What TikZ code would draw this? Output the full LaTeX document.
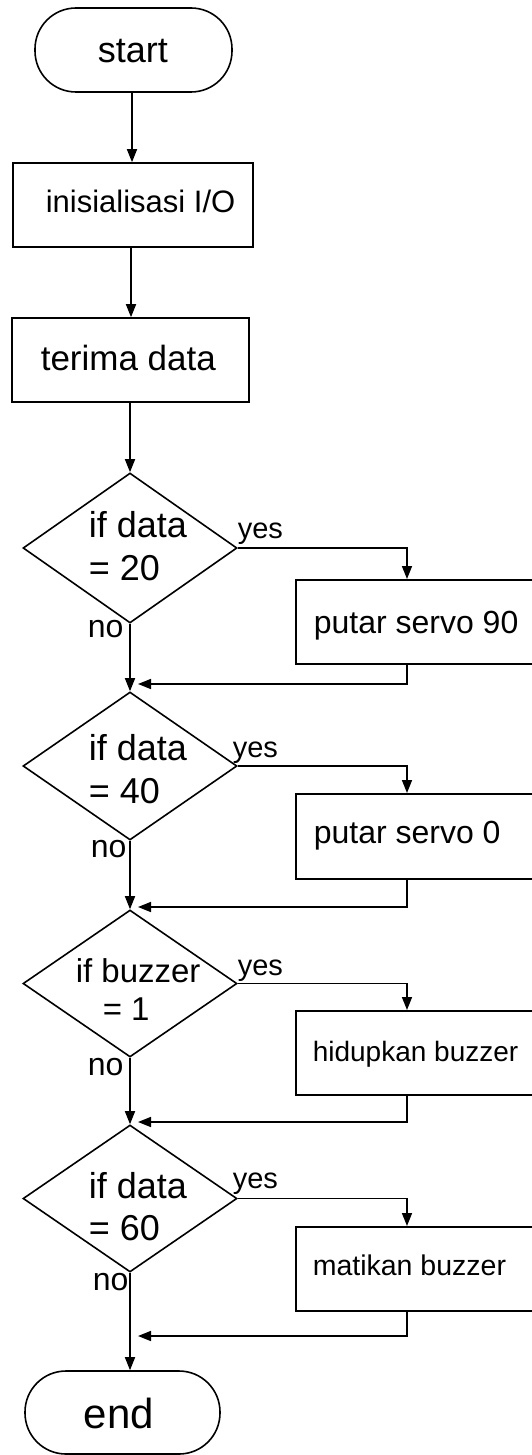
\documentclass[tikz,border=0pt]{standalone}
\usepackage{fontspec}
\setmainfont{Liberation Sans}
\usetikzlibrary{shapes.geometric,arrows.meta}
\newcommand{\fsz}[1]{\fontsize{#1}{#1}\selectfont}
\begin{document}
\begin{tikzpicture}[x=1pt,y=-1pt,line width=1.6pt,
  flow/.style={-{Triangle[length=13pt,width=10pt]}},
  term/.style={draw,rectangle,rounded corners=41pt,inner sep=0pt},
  procbox/.style={draw,rectangle,inner sep=0pt,minimum height=84pt},
  dia/.style={draw,diamond,inner sep=0pt,minimum width=214pt,minimum height=150pt},
  txt/.style={inner sep=0pt,anchor=base west}]
\useasboundingbox (0,0) rectangle (532,1455);
\fill[white] (0,0) rectangle (532,1455);
% shapes
\node[term,minimum width=197pt,minimum height=84pt] (start) at (133.5,50) {};
\node[procbox,minimum width=240pt] (b1) at (133,205) {};
\node[procbox,minimum width=237pt] (b2) at (130.5,360) {};
\node[dia] (d1) at (130,548) {};
\node[procbox,anchor=north west,minimum width=260pt] (b3) at (295,579) {};
\node[dia,minimum height=148pt] (d2) at (130,766) {};
\node[procbox,anchor=north west,minimum width=260pt,minimum height=85pt] (b4) at (295,793) {};
\node[dia,minimum height=147pt] (d3) at (130,983.5) {};
\node[procbox,anchor=north west,minimum width=260pt] (b5) at (295,1010) {};
\node[dia,minimum height=147pt] (d4) at (130,1198.5) {};
\node[procbox,anchor=north west,minimum width=260pt] (b6) at (295,1226) {};
\node[term,minimum width=195pt,minimum height=83pt] (end) at (122.5,1412.5) {};
% texts
\node[txt,font=\fsz{36}] (tstart) at (97,63) {start};
\node[txt,font=\fsz{31}] (tb1) at (45,213) {inisialisasi I/O};
\node[txt,font=\fsz{35}] (tb2) at (40,370) {terima data};
\node[txt,font=\fsz{36}] (td1a) at (88,537) {if data};
\node[txt,font=\fsz{36}] (td1b) at (88,580) {= 20};
\node[txt,font=\fsz{36}] (td2a) at (88,760) {if data};
\node[txt,font=\fsz{36}] (td2b) at (88,803) {= 40};
\node[txt,font=\fsz{33}] (td3a) at (75,982) {if buzzer};
\node[txt,font=\fsz{33}] (td3b) at (102,1020) {= 1};
\node[txt,font=\fsz{36}] (td4a) at (88,1198) {if data};
\node[txt,font=\fsz{36}] (td4b) at (88,1240) {= 60};
\node[txt,font=\fsz{32}] (tb3) at (313,633) {putar servo 90};
\node[txt,font=\fsz{32}] (tb4) at (313,843) {putar servo 0};
\node[txt,font=\fsz{28}] (tb5) at (312,1061) {hidupkan buzzer};
\node[txt,font=\fsz{28.5}] (tb6) at (312,1275) {matikan buzzer};
\node[txt,font=\fsz{42}] (tend) at (83,1428) {end};
\node[txt,font=\fsz{29}] (y1) at (237,538) {yes};
\node[txt,font=\fsz{32}] (n1) at (87,637) {no};
\node[txt,font=\fsz{29}] (y2) at (232,757) {yes};
\node[txt,font=\fsz{32}] (n2) at (90,857) {no};
\node[txt,font=\fsz{29}] (y3) at (237,975) {yes};
\node[txt,font=\fsz{32}] (n3) at (87,1075) {no};
\node[txt,font=\fsz{29}] (y4) at (232,1188) {yes};
\node[txt,font=\fsz{32}] (n4) at (92,1290) {no};
% join points
\coordinate (j1) at (138,684);
\coordinate (j2) at (138,907);
\coordinate (j3) at (138,1122);
\coordinate (j4) at (138,1336);
% connectors
\draw[flow] (start.south -| 132,0) -- (b1.north -| 132,0);
\draw[flow] (b1.south -| 131,0) -- (b2.north -| 131,0);
\draw[flow] (b2.south -| d1.north) -- (d1.north);
\draw[flow] (d1.east) -| ([xshift=112pt]b3.north west);
\draw[flow] (d1.south) -- (d2.north);
\draw[flow] ([xshift=112pt]b3.south west) |- (j1);
\draw[flow] (d2.east) -| ([xshift=112pt]b4.north west);
\draw[flow] (d2.south) -- (d3.north);
\draw[flow] ([xshift=112pt]b4.south west) |- (j2);
\draw[flow] (d3.east) -| ([xshift=112pt]b5.north west);
\draw[flow] (d3.south) -- (d4.north);
\draw[flow] ([xshift=112pt]b5.south west) |- (j3);
\draw[flow] (d4.east) -| ([xshift=112pt]b6.north west);
\draw[flow] (d4.south) -- (d4.south |- end.north);
\draw[flow] ([xshift=112pt]b6.south west) |- (j4);
\end{tikzpicture}
\end{document}
